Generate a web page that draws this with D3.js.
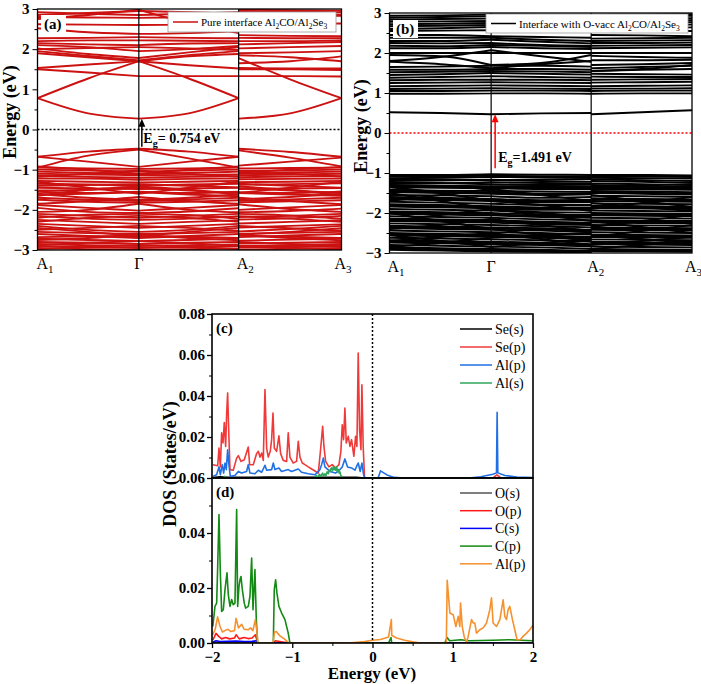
<!DOCTYPE html>
<html>
<head>
<meta charset="UTF-8">
<script src="https://d3js.org/d3.v7.min.js"></script>
<style>
  body { margin: 0; background: #fff; }
  svg text { font-family: "Liberation Serif", "Times New Roman", serif; }
  .tick text { font-weight: bold; }
</style>
</head>
<body>
<svg id="fig" width="701" height="684"></svg>
<script>
// ---------- data ----------
// k-path positions of A1, Γ, A2, A3 (fraction of 3 segments)
const kTicksA = [0, 1, 1.985, 3];
const kTicksB = [0, 1.008, 2.0, 3];
const kNames = [['A', '1'], ['Γ', ''], ['A', '2'], ['A', '3']];
const energyTicks = [-3, -2, -1, 0, 1, 2, 3];
const energyMinor = [-2.5, -1.5, -0.5, 0.5, 1.5, 2.5];

// band rows: [A1, mid, Γ, mid, A2(left), A2(right), mid, A3]  (eV)
const bandsPure = [
  [0.78, 0.40, 0.27, 0.40, 0.78, 0.27, 0.40, 0.78],
  [0.78, 1.27, 1.70, 1.27, 0.78, 1.78, 1.25, 0.78],
  [1.50, 1.42, 1.33, 1.33, 1.33, 1.33, 1.33, 1.32],
  [1.53, 1.62, 1.70, 1.60, 1.52, 1.50, 1.50, 1.48],
  [1.90, 1.80, 1.70, 1.82, 1.88, 1.53, 1.52, 1.52],
  [1.95, 1.83, 1.72, 1.85, 1.95, 1.65, 1.70, 1.82],
  [2.02, 1.88, 1.78, 1.92, 2.05, 1.85, 1.80, 1.70],
  [2.10, 2.05, 1.95, 2.00, 2.08, 1.90, 1.92, 1.95],
  [2.00, 2.03, 2.05, 2.02, 1.98, 2.02, 2.05, 2.08],
  [2.15, 2.12, 2.10, 2.14, 2.15, 2.12, 2.15, 2.18],
  [2.20, 2.22, 2.22, 2.21, 2.20, 2.20, 2.20, 2.22],
  [2.27, 2.28, 2.30, 2.28, 2.27, 2.28, 2.27, 2.27],
  [2.52, 2.42, 2.38, 2.40, 2.45, 2.35, 2.33, 2.32],
  [2.62, 2.61, 2.60, 2.61, 2.62, 2.62, 2.63, 2.64],
  [2.75, 2.85, 2.98, 2.65, 2.40, 2.80, 2.82, 2.83],
  [2.80, 2.79, 2.78, 2.80, 2.82, 2.88, 2.87, 2.86],
  [2.85, 2.90, 2.95, 2.92, 2.88, 2.95, 2.93, 2.92],
  [2.92, 2.88, 2.85, 2.88, 2.92, 2.98, 2.97, 2.96],
  [-0.68, -0.55, -0.48, -0.55, -0.68, -0.48, -0.56, -0.68],
  [-0.95, -0.65, -0.50, -0.72, -0.95, -0.52, -0.70, -0.92],
  [-0.68, -0.80, -0.93, -0.80, -0.68, -0.90, -0.80, -0.70],
  [-0.95, -0.97, -0.98, -0.97, -0.95, -0.97, -0.96, -0.95],
  [-0.92, -1.00, -1.10, -1.00, -0.92, -1.08, -1.00, -0.93],
  [-1.00, -1.02, -1.05, -1.02, -1.00, -1.03, -1.02, -1.00],
  [-1.05, -1.08, -1.12, -1.08, -1.05, -1.10, -1.07, -1.05],
  [-1.10, -1.12, -1.14, -1.13, -1.12, -1.14, -1.12, -1.10],
  [-1.18, -1.10, -1.02, -1.10, -1.18, -1.03, -1.10, -1.17],
  [-1.15, -1.18, -1.20, -1.18, -1.16, -1.19, -1.17, -1.16],
  [-1.22, -1.22, -1.25, -1.23, -1.22, -1.24, -1.23, -1.22],
  [-1.28, -1.30, -1.32, -1.30, -1.28, -1.31, -1.30, -1.28],
  [-1.35, -1.37, -1.40, -1.37, -1.35, -1.38, -1.36, -1.34],
  [-1.40, -1.38, -1.36, -1.40, -1.44, -1.35, -1.40, -1.45],
  [-1.45, -1.47, -1.48, -1.47, -1.45, -1.48, -1.47, -1.46],
  [-1.52, -1.50, -1.45, -1.52, -1.58, -1.46, -1.52, -1.58],
  [-1.55, -1.58, -1.55, -1.58, -1.55, -1.56, -1.58, -1.54],
  [-1.60, -1.70, -1.75, -1.70, -1.62, -1.74, -1.68, -1.60],
  [-1.62, -1.60, -1.56, -1.62, -1.66, -1.58, -1.62, -1.65],
  [-1.70, -1.75, -1.78, -1.74, -1.70, -1.77, -1.74, -1.70],
  [-1.75, -1.80, -1.82, -1.80, -1.76, -1.81, -1.79, -1.76],
  [-1.85, -1.78, -1.68, -1.78, -1.85, -1.70, -1.78, -1.86],
  [-1.88, -1.95, -2.02, -1.95, -1.88, -2.00, -1.94, -1.88],
  [-1.95, -2.05, -2.08, -2.04, -1.96, -2.06, -2.03, -1.97],
  [-2.05, -2.00, -1.85, -2.00, -2.06, -1.86, -1.98, -2.05],
  [-2.10, -2.15, -2.20, -2.15, -2.10, -2.18, -2.15, -2.10],
  [-2.15, -2.22, -2.25, -2.22, -2.16, -2.24, -2.21, -2.15],
  [-2.20, -2.12, -2.10, -2.13, -2.22, -2.10, -2.14, -2.22],
  [-2.30, -2.20, -2.15, -2.20, -2.30, -2.16, -2.22, -2.30],
  [-2.25, -2.30, -2.35, -2.30, -2.26, -2.34, -2.30, -2.26],
  [-2.35, -2.40, -2.45, -2.40, -2.35, -2.44, -2.40, -2.36],
  [-2.40, -2.50, -2.55, -2.50, -2.40, -2.54, -2.48, -2.40],
  [-2.45, -2.55, -2.65, -2.55, -2.45, -2.62, -2.55, -2.46],
  [-2.50, -2.45, -2.40, -2.45, -2.52, -2.40, -2.46, -2.52],
  [-2.55, -2.58, -2.60, -2.58, -2.55, -2.60, -2.57, -2.55],
  [-2.60, -2.65, -2.70, -2.65, -2.60, -2.68, -2.64, -2.60],
  [-2.68, -2.66, -2.65, -2.67, -2.70, -2.64, -2.67, -2.70],
  [-2.75, -2.70, -2.62, -2.70, -2.76, -2.63, -2.70, -2.76],
  [-2.72, -2.75, -2.78, -2.75, -2.72, -2.77, -2.74, -2.72],
  [-2.80, -2.82, -2.85, -2.82, -2.80, -2.84, -2.82, -2.80],
  [-2.88, -2.82, -2.78, -2.83, -2.90, -2.80, -2.85, -2.90],
  [-2.85, -2.88, -2.90, -2.88, -2.86, -2.90, -2.88, -2.85],
  [-2.90, -2.93, -2.95, -2.93, -2.90, -2.94, -2.92, -2.90],
  [-2.98, -2.92, -2.88, -2.92, -2.98, -2.90, -2.94, -2.99],
  [-2.95, -2.98, -3.00, -2.98, -2.96, -2.99, -2.97, -2.95],
  [-1.30, -1.45, -1.60, -1.45, -1.30, -1.58, -1.45, -1.30],
  [-1.65, -1.50, -1.42, -1.50, -1.62, -1.42, -1.50, -1.64]
];

const bandsVacc = [
  [0.52, 0.50, 0.47, 0.49, 0.50, 0.47, 0.52, 0.57],
  [0.98, 0.98, 0.99, 0.99, 0.98, 0.98, 0.99, 0.99],
  [1.05, 1.05, 1.06, 1.06, 1.05, 1.05, 1.06, 1.06],
  [1.10, 1.11, 1.12, 1.11, 1.10, 1.11, 1.11, 1.12],
  [1.17, 1.18, 1.19, 1.18, 1.17, 1.17, 1.18, 1.19],
  [1.25, 1.26, 1.27, 1.26, 1.25, 1.26, 1.27, 1.28],
  [1.32, 1.33, 1.33, 1.33, 1.32, 1.33, 1.34, 1.35],
  [1.38, 1.40, 1.42, 1.40, 1.38, 1.41, 1.40, 1.40],
  [1.45, 1.47, 1.50, 1.48, 1.46, 1.48, 1.47, 1.46],
  [1.52, 1.53, 1.55, 1.54, 1.52, 1.55, 1.58, 1.60],
  [1.58, 1.58, 1.60, 1.60, 1.58, 1.62, 1.65, 1.68],
  [1.65, 1.66, 1.68, 1.68, 1.66, 1.70, 1.72, 1.75],
  [1.78, 1.72, 1.62, 1.72, 1.80, 1.55, 1.60, 1.70],
  [1.80, 1.90, 2.07, 1.92, 1.78, 1.82, 1.82, 1.83],
  [1.95, 1.92, 1.70, 1.75, 1.95, 1.93, 1.90, 1.88],
  [2.00, 2.00, 2.00, 2.00, 2.00, 2.00, 2.00, 2.00],
  [2.12, 2.12, 2.15, 2.12, 2.10, 2.12, 2.13, 2.14],
  [2.18, 2.17, 2.20, 2.18, 2.15, 2.18, 2.19, 2.20],
  [2.25, 2.24, 2.25, 2.20, 2.18, 2.25, 2.25, 2.26],
  [2.30, 2.30, 2.33, 2.28, 2.24, 2.30, 2.31, 2.32],
  [2.38, 2.38, 2.38, 2.33, 2.30, 2.36, 2.37, 2.38],
  [2.45, 2.45, 2.42, 2.40, 2.38, 2.45, 2.44, 2.42],
  [2.55, 2.56, 2.57, 2.57, 2.56, 2.56, 2.55, 2.55],
  [2.60, 2.62, 2.65, 2.62, 2.60, 2.62, 2.63, 2.64],
  [2.67, 2.68, 2.70, 2.70, 2.70, 2.70, 2.70, 2.71],
  [2.72, 2.73, 2.75, 2.74, 2.73, 2.75, 2.76, 2.77],
  [2.78, 2.79, 2.80, 2.80, 2.80, 2.80, 2.81, 2.82],
  [2.83, 2.85, 2.86, 2.86, 2.86, 2.86, 2.87, 2.87],
  [2.88, 2.90, 2.92, 2.91, 2.90, 2.91, 2.92, 2.93],
  [2.93, 2.94, 2.96, 2.95, 2.95, 2.95, 2.96, 2.97],
  [-1.05, -1.05, -1.03, -1.04, -1.05, -1.05, -1.05, -1.06],
  [-1.09, -1.08, -1.07, -1.08, -1.09, -1.08, -1.09, -1.10],
  [-1.13, -1.12, -1.10, -1.11, -1.12, -1.12, -1.13, -1.14],
  [-1.15, -1.16, -1.18, -1.16, -1.15, -1.16, -1.18, -1.20],
  [-1.20, -1.19, -1.17, -1.20, -1.22, -1.20, -1.22, -1.25],
  [-1.24, -1.25, -1.28, -1.30, -1.28, -1.26, -1.28, -1.30],
  [-1.27, -1.26, -1.23, -1.25, -1.26, -1.30, -1.32, -1.33],
  [-1.30, -1.32, -1.33, -1.33, -1.33, -1.34, -1.35, -1.36],
  [-1.33, -1.35, -1.36, -1.37, -1.36, -1.37, -1.38, -1.39],
  [-1.36, -1.37, -1.38, -1.40, -1.40, -1.40, -1.41, -1.42],
  [-1.42, -1.44, -1.45, -1.46, -1.47, -1.45, -1.46, -1.48],
  [-1.45, -1.47, -1.49, -1.51, -1.50, -1.48, -1.49, -1.51],
  [-1.48, -1.50, -1.52, -1.55, -1.53, -1.50, -1.52, -1.54],
  [-1.55, -1.56, -1.58, -1.62, -1.60, -1.57, -1.58, -1.60],
  [-1.60, -1.62, -1.65, -1.68, -1.67, -1.63, -1.65, -1.66],
  [-1.63, -1.65, -1.68, -1.71, -1.70, -1.66, -1.68, -1.69],
  [-1.66, -1.68, -1.70, -1.74, -1.73, -1.70, -1.71, -1.72],
  [-1.72, -1.74, -1.77, -1.80, -1.80, -1.76, -1.77, -1.78],
  [-1.78, -1.80, -1.83, -1.86, -1.86, -1.82, -1.83, -1.84],
  [-1.81, -1.83, -1.86, -1.89, -1.89, -1.85, -1.86, -1.87],
  [-1.84, -1.86, -1.88, -1.92, -1.92, -1.88, -1.89, -1.90],
  [-1.90, -1.92, -1.94, -1.98, -1.99, -1.94, -1.95, -1.96],
  [-1.96, -1.98, -2.00, -2.04, -2.05, -2.00, -2.01, -2.02],
  [-1.99, -2.01, -2.03, -2.07, -2.08, -2.03, -2.04, -2.05],
  [-2.02, -2.04, -2.06, -2.10, -2.12, -2.06, -2.07, -2.08],
  [-2.08, -2.10, -2.12, -2.16, -2.18, -2.12, -2.13, -2.14],
  [-2.14, -2.16, -2.18, -2.22, -2.24, -2.18, -2.19, -2.20],
  [-2.17, -2.19, -2.21, -2.25, -2.27, -2.21, -2.22, -2.23],
  [-2.20, -2.22, -2.24, -2.28, -2.30, -2.24, -2.25, -2.26],
  [-2.26, -2.28, -2.30, -2.33, -2.36, -2.30, -2.31, -2.32],
  [-2.32, -2.34, -2.36, -2.38, -2.42, -2.36, -2.37, -2.38],
  [-2.35, -2.37, -2.39, -2.41, -2.45, -2.39, -2.40, -2.41],
  [-2.38, -2.40, -2.42, -2.44, -2.48, -2.42, -2.43, -2.44],
  [-2.44, -2.46, -2.48, -2.50, -2.54, -2.48, -2.49, -2.50],
  [-2.50, -2.52, -2.54, -2.56, -2.60, -2.54, -2.55, -2.56],
  [-2.53, -2.55, -2.57, -2.59, -2.63, -2.57, -2.58, -2.59],
  [-2.56, -2.58, -2.60, -2.62, -2.66, -2.60, -2.61, -2.62],
  [-2.62, -2.64, -2.66, -2.68, -2.72, -2.66, -2.67, -2.68],
  [-2.68, -2.70, -2.72, -2.74, -2.78, -2.72, -2.73, -2.74],
  [-2.71, -2.73, -2.75, -2.77, -2.81, -2.75, -2.76, -2.77],
  [-2.74, -2.76, -2.78, -2.80, -2.84, -2.78, -2.79, -2.80],
  [-2.80, -2.82, -2.84, -2.86, -2.90, -2.84, -2.85, -2.86],
  [-2.86, -2.88, -2.90, -2.92, -2.95, -2.90, -2.91, -2.92],
  [-2.89, -2.91, -2.93, -2.95, -2.97, -2.92, -2.93, -2.94],
  [-2.92, -2.94, -2.96, -2.97, -2.99, -2.95, -2.96, -2.97],
  [-1.35, -1.50, -1.70, -1.80, -1.95, -1.55, -1.70, -1.85],
  [-1.70, -1.55, -1.40, -1.55, -1.70, -1.90, -1.75, -1.60],
  [-1.50, -1.70, -1.90, -2.00, -2.10, -1.75, -1.85, -1.95],
  [-2.00, -2.20, -2.40, -2.55, -2.70, -2.20, -2.35, -2.50],
  [-2.20, -2.05, -1.90, -2.05, -2.20, -2.35, -2.20, -2.05],
  [-2.40, -2.30, -2.15, -2.30, -2.45, -2.60, -2.45, -2.30],
  [-2.70, -2.60, -2.50, -2.65, -2.80, -2.55, -2.65, -2.75],
  [-2.55, -2.70, -2.85, -2.75, -2.65, -2.80, -2.70, -2.60],
  [-2.85, -2.75, -2.62, -2.55, -2.50, -2.90, -2.80, -2.70]
];

// band gap arrows [from VB, to CB] in eV
const gapPure = [-0.43, 0.27];
const gapVacc = [-0.88, 0.47];

// DOS panel (c): [energy eV, DOS]
const seS = [[-2,0.0002],[-1.9,0.0006],[-1.8,0.0004],[-1.5,0.0003],[-1.3,0.0005],[-0.6,0.0003],[-0.2,0.0004],[-0.1,0],[2,0]];
const seP = [[-1.99,0.0065],[-1.929,0.0060],[-1.913,0.0146],[-1.896,0.0054],[-1.880,0.022],[-1.863,0.0171],[-1.847,0.0271],[-1.830,0.0154],[-1.817,0.0317],[-1.805,0.0415],[-1.792,0.0236],[-1.776,0.0041],[-1.735,0.0038],[-1.693,0.0097],[-1.672,0.0109],[-1.639,0.0081],[-1.598,0.0089],[-1.548,0.0151],[-1.531,0.0065],[-1.486,0.0065],[-1.444,0.0119],[-1.423,0.013],[-1.402,0.0102],[-1.381,0.0122],[-1.361,0.0086],[-1.340,0.0431],[-1.319,0.0146],[-1.299,0.0102],[-1.274,0.013],[-1.257,0.0187],[-1.240,0.0317],[-1.224,0.0146],[-1.195,0.013],[-1.166,0.0206],[-1.145,0.0119],[-1.112,0.0086],[-1.070,0.0081],[-1.050,0.022],[-1.029,0.0102],[-0.988,0.0073],[-0.946,0.0081],[-0.925,0.0179],[-0.904,0.0102],[-0.875,0.0073],[-0.842,0.0065],[-0.800,0.0054],[-0.758,0.0044],[-0.717,0.0034],[-0.676,0.0024],[-0.651,0.0122],[-0.634,0.0195],[-0.621,0.0252],[-0.605,0.0154],[-0.584,0.0081],[-0.543,0.0054],[-0.502,0.0065],[-0.460,0.0049],[-0.418,0.0065],[-0.394,0.013],[-0.377,0.026],[-0.360,0.0187],[-0.344,0.0341],[-0.327,0.0171],[-0.302,0.0203],[-0.281,0.0154],[-0.261,0.0187],[-0.232,0.0106],[-0.211,0.0203],[-0.194,0.0154],[-0.178,0.061],[-0.161,0.0236],[-0.144,0.0138],[-0.132,0.0455],[-0.116,0.0154],[-0.099,0],[1.5,0],[1.55,0.0015],[1.6,0],[2,0]];
const alPc = [[-1.99,0.0008],[-1.943,0.0016],[-1.913,0.0054],[-1.896,0.0016],[-1.872,0.0065],[-1.855,0.0024],[-1.838,0.0073],[-1.822,0.0041],[-1.805,0.0138],[-1.788,0.006],[-1.772,0.0008],[-1.714,0.0012],[-1.672,0.0032],[-1.631,0.0024],[-1.569,0.0032],[-1.548,0.0065],[-1.527,0.0024],[-1.465,0.0021],[-1.423,0.0038],[-1.381,0.0028],[-1.340,0.0062],[-1.319,0.0038],[-1.257,0.0041],[-1.236,0.0073],[-1.216,0.0041],[-1.166,0.0049],[-1.133,0.0032],[-1.050,0.0041],[-1.009,0.0032],[-0.925,0.0044],[-0.884,0.0028],[-0.800,0.0021],[-0.717,0.0016],[-0.655,0.0041],[-0.634,0.0065],[-0.613,0.0097],[-0.593,0.0054],[-0.530,0.0032],[-0.460,0.0024],[-0.406,0.0041],[-0.377,0.0054],[-0.344,0.0093],[-0.311,0.0054],[-0.261,0.0049],[-0.219,0.0038],[-0.194,0.006],[-0.178,0.0073],[-0.153,0.0032],[-0.132,0.0073],[-0.111,0.0016],[-0.095,0],[0.07,0],[0.10,0.0035],[0.12,0.003],[0.18,0.0015],[0.27,0.0003],[0.4,0],[1.2,0],[1.35,0.0006],[1.5,0.0018],[1.545,0.0025],[1.553,0.032],[1.562,0.0025],[1.65,0.0012],[1.8,0.0005],[2,0.0002]];
const alSc = [[-2,0],[-1.86,0],[-1.84,0.0008],[-1.82,0],[-0.75,0],[-0.717,0.0005],[-0.70,0.0012],[-0.69,0.0004],[-0.676,0.0010],[-0.66,0.0018],[-0.65,0.0006],[-0.634,0.0016],[-0.62,0.0024],[-0.61,0.0008],[-0.593,0.0020],[-0.58,0.0012],[-0.565,0.0030],[-0.551,0.0021],[-0.54,0.0038],[-0.530,0.0032],[-0.52,0.0045],[-0.510,0.0049],[-0.50,0.0036],[-0.489,0.0054],[-0.478,0.0040],[-0.468,0.0052],[-0.458,0.0038],[-0.447,0.0054],[-0.437,0.0030],[-0.427,0.0042],[-0.416,0.0024],[-0.406,0.0030],[-0.395,0.0012],[-0.385,0.0008],[-0.37,0],[2,0]];

// DOS panel (d)
const oS = [[-1.99,0.0002],[-1.9,0.0003],[-1.5,0.0002],[-1.43,0],[2,0]];
const oP = [[-1.99,0.001],[-1.95,0.0035],[-1.92,0.0025],[-1.88,0.0015],[-1.83,0.002],[-1.78,0.0015],[-1.72,0.0018],[-1.70,0.003],[-1.66,0.0015],[-1.60,0.002],[-1.55,0.0016],[-1.50,0.0018],[-1.46,0.003],[-1.43,0],[-1.24,0],[-1.21,0.0008],[-1.1,0.0003],[-1.03,0],[2,0]];
const cS = [[-1.99,0.0003],[-1.95,0.0008],[-1.9,0.0005],[-1.8,0.0006],[-1.7,0.0007],[-1.6,0.0005],[-1.5,0.0006],[-1.45,0.0008],[-1.43,0],[2,0]];
const cP = [[-1.99,0.006],[-1.963,0.0133],[-1.942,0.0145],[-1.929,0.0279],[-1.913,0.0467],[-1.896,0.0255],[-1.880,0.0115],[-1.859,0.0121],[-1.838,0.0194],[-1.813,0.0255],[-1.797,0.0176],[-1.776,0.0133],[-1.755,0.0158],[-1.735,0.0139],[-1.714,0.0145],[-1.693,0.0485],[-1.680,0.0133],[-1.664,0.0206],[-1.651,0.023],[-1.639,0.0242],[-1.622,0.0194],[-1.598,0.0145],[-1.581,0.0127],[-1.548,0.0133],[-1.527,0.017],[-1.506,0.0309],[-1.489,0.0121],[-1.465,0.0267],[-1.448,0.0085],[-1.431,0],[-1.236,0],[-1.224,0.0194],[-1.207,0.023],[-1.191,0.0182],[-1.166,0.0133],[-1.132,0.0109],[-1.091,0.0085],[-1.050,0.0036],[-1.029,0],[0.2,0],[0.23,0.002],[0.24,0],[0.9,0],[0.93,0.002],[0.96,0.0008],[1.1,0.0012],[1.2,0.0008],[1.5,0.001],[1.7,0.0012],[2,0.0008]];
const alPd = [[-1.99,0.003],[-1.96,0.005],[-1.93,0.0095],[-1.90,0.006],[-1.87,0.004],[-1.84,0.0045],[-1.80,0.005],[-1.77,0.0042],[-1.72,0.0045],[-1.70,0.009],[-1.67,0.0055],[-1.63,0.0068],[-1.60,0.005],[-1.55,0.0048],[-1.52,0.0055],[-1.49,0.0045],[-1.46,0.0085],[-1.44,0.004],[-1.43,0],[-1.24,0],[-1.22,0.004],[-1.20,0.0042],[-1.15,0.0025],[-1.10,0.0015],[-1.05,0.0002],[-1.03,0],[-0.3,0],[-0.1,0.0005],[0,0.001],[0.1,0.0013],[0.2,0.0022],[0.235,0.0085],[0.24,0.0028],[0.3,0.0018],[0.4,0.001],[0.5,0.0004],[0.6,0],[0.92,0],[0.931,0.0228],[0.964,0.0109],[1.005,0.0103],[1.039,0.006],[1.068,0.0097],[1.088,0.006],[1.097,0.0145],[1.118,0.006],[1.142,0.0024],[1.172,0],[1.192,0.0024],[1.234,0.0085],[1.254,0.0073],[1.275,0.0073],[1.296,0.0036],[1.337,0.0048],[1.379,0.0055],[1.421,0.0073],[1.462,0.0121],[1.483,0.0164],[1.503,0.0073],[1.545,0.006],[1.587,0.0085],[1.628,0.0157],[1.649,0.0097],[1.670,0.0085],[1.690,0.0121],[1.711,0.0133],[1.744,0.0085],[1.773,0.0048],[1.802,0.0012],[1.84,0.0012],[1.877,0.0024],[1.92,0.0036],[1.960,0.0048],[2,0.0065]];

const dosTicksX = [-2, -1, 0, 1, 2];
const dosMinorX = [-1.5, -0.5, 0.5, 1.5];
const dosTicksC = [0.02, 0.04, 0.06, 0.08];
const dosTicksD = [0, 0.02, 0.04, 0.06];
const dosMinorC = [0.01, 0.03, 0.05, 0.07];
const dosMinorD = [0.01, 0.03, 0.05];

const namesC = ['Se(s)', 'Se(p)', 'Al(p)', 'Al(s)'];
const namesD = ['O(s)', 'O(p)', 'C(s)', 'C(p)', 'Al(p)'];

// ---------- drawing ----------
const serif = '"Liberation Serif", "Times New Roman", serif';
const svg = d3.select('#fig');
const defs = svg.append('defs');

// writes text with subscript parts: parts = [[str, isSub], ...]
function rich(t, parts, subSize, subDy) {
  let down = false;
  parts.forEach(([s, sub]) => {
    const ts = t.append('tspan').text(s);
    if (sub) {
      ts.attr('font-size', subSize);
      if (!down) { ts.attr('dy', subDy); down = true; }
    } else if (down) {
      ts.attr('dy', -subDy); down = false;
    }
  });
}

function bandPanel(cfg) {
  const g = svg.append('g');
  const kt = cfg.kTicks;
  const x = d3.scaleLinear().domain([0, 3]).range([cfg.x0, cfg.x1]);
  const y = d3.scaleLinear().domain([-3, 3]).range([cfg.y1, cfg.y0]);
  defs.append('clipPath').attr('id', 'clip' + cfg.id).append('rect')
      .attr('x', cfg.x0).attr('y', cfg.y0)
      .attr('width', cfg.x1 - cfg.x0).attr('height', cfg.y1 - cfg.y0);
  const plot = g.append('g').attr('clip-path', 'url(#clip' + cfg.id + ')');

  const segs = [];
  cfg.bands.forEach(b => {
    segs.push([[kt[0], b[0]], [(kt[0] + kt[1]) / 2, b[1]], [kt[1], b[2]]]);
    segs.push([[kt[1], b[2]], [(kt[1] + kt[2]) / 2, b[3]], [kt[2], b[4]]]);
    segs.push([[kt[2], b[5]], [(kt[2] + kt[3]) / 2, b[6]], [kt[3], b[7]]]);
  });
  const line = d3.line().x(d => x(d[0])).y(d => y(d[1])).curve(d3.curveMonotoneX);
  plot.selectAll('path.band').data(segs).join('path')
      .attr('class', 'band')
      .attr('d', line)
      .attr('fill', 'none')
      .attr('stroke', cfg.color)
      .attr('stroke-width', cfg.lw);

  // high-symmetry lines
  plot.selectAll('line.kline').data([kt[1], kt[2]]).join('line')
      .attr('x1', d => x(d)).attr('x2', d => x(d))
      .attr('y1', cfg.y0).attr('y2', cfg.y1)
      .attr('stroke', '#000').attr('stroke-width', 1.2);

  // fermi level
  plot.append('line')
      .attr('x1', cfg.x0).attr('x2', cfg.x1).attr('y1', y(0)).attr('y2', y(0))
      .attr('stroke', cfg.zeroColor).attr('stroke-width', 1.5)
      .attr('stroke-dasharray', '2,2');

  // panel label with white background
  g.append('rect').attr('x', cfg.tagX - 3).attr('y', cfg.tagY - 14)
      .attr('width', 25).attr('height', 18).attr('fill', '#fff');
  g.append('text').attr('x', cfg.tagX).attr('y', cfg.tagY)
      .attr('font-size', 15).attr('font-weight', 'bold').text(cfg.tag);

  // legend
  const L = cfg.legend;
  g.append('rect').attr('x', L.x).attr('y', L.y).attr('width', L.w).attr('height', L.h)
      .attr('fill', '#fff').attr('stroke', '#999').attr('stroke-width', 0.8);
  g.append('line').attr('x1', L.x + 5).attr('x2', L.x + 30)
      .attr('y1', L.y + L.h / 2).attr('y2', L.y + L.h / 2)
      .attr('stroke', cfg.color).attr('stroke-width', 1.5);
  const lt = g.append('text').attr('x', L.x + 33).attr('y', L.y + L.h / 2 + 4)
      .attr('font-size', 11);
  rich(lt, L.parts, 7.5, 3);

  // band gap arrow
  const ax = x(kt[1]) + cfg.arrowDx;
  const yTo = y(cfg.gap[1]);
  g.append('line').attr('x1', ax).attr('x2', ax)
      .attr('y1', y(cfg.gap[0])).attr('y2', yTo + 6)
      .attr('stroke', cfg.arrowColor).attr('stroke-width', 1.5);
  g.append('path')
      .attr('d', `M${ax},${yTo} L${ax - 3.5},${yTo + 8} L${ax + 3.5},${yTo + 8} Z`)
      .attr('fill', cfg.arrowColor);
  const gt = g.append('text').attr('x', ax + cfg.gapTextDx).attr('y', cfg.gapTextY)
      .attr('font-size', 14).attr('font-weight', 'bold');
  rich(gt, [['E', false], ['g', true], [cfg.gapText, false]], 10, 4);

  // frame
  g.append('rect').attr('x', cfg.x0).attr('y', cfg.y0)
      .attr('width', cfg.x1 - cfg.x0).attr('height', cfg.y1 - cfg.y0)
      .attr('fill', 'none').attr('stroke', '#000').attr('stroke-width', 1.3);

  // y axis
  const ya = g.append('g').attr('transform', `translate(${cfg.x0},0)`)
      .call(d3.axisLeft(y).tickValues(energyTicks).tickSize(5).tickPadding(3)
      .tickFormat(d3.format('d')));
  ya.attr('font-family', serif);
  ya.select('.domain').remove();
  ya.selectAll('text').attr('font-size', 15).attr('font-family', serif);
  const ym = g.append('g').attr('transform', `translate(${cfg.x0},0)`)
      .call(d3.axisLeft(y).tickValues(energyMinor).tickSize(3).tickFormat(''));
  ym.select('.domain').remove();

  // k labels
  const kl = g.selectAll('text.klab').data(kt).join('text')
      .attr('class', 'klab')
      .attr('x', (d, i) => x(d) + cfg.kShift[i])
      .attr('y', cfg.y1 + 19)
      .attr('font-size', 16)
      .attr('text-anchor', (d, i) => i === 1 ? 'middle' : 'start');
  kl.each(function (d, i) {
    rich(d3.select(this), [[kNames[i][0], false], [kNames[i][1], true]], 11, 4);
  });

  // y title
  g.append('text')
      .attr('transform', `translate(${cfg.titleX},${cfg.titleY}) rotate(-90)`)
      .attr('text-anchor', 'middle').attr('font-size', 18).attr('font-weight', 'bold')
      .text('Energy (eV)');
}

bandPanel({
  id: 'a', x0: 37.5, x1: 341.5, y0: 9, y1: 250, kTicks: kTicksA,
  bands: bandsPure, color: '#cc1111', lw: 1.9, zeroColor: '#000',
  tag: '(a)', tagX: 44, tagY: 29,
  legend: { x: 168, y: 12, w: 168, h: 20,
    parts: [['Pure interface Al', false], ['2', true], ['CO/Al', false], ['2', true], ['Se', false], ['3', true]] },
  gap: gapPure, arrowColor: '#000', arrowDx: 3, gapText: '= 0.754 eV', gapTextDx: 1.5, gapTextY: 143,
  kShift: [-1, 0, -2, -7], titleX: 16, titleY: 112
});

bandPanel({
  id: 'b', x0: 389.5, x1: 692, y0: 13, y1: 253, kTicks: kTicksB,
  bands: bandsVacc, color: '#000', lw: 1.9, zeroColor: '#ff0000',
  tag: '(b)', tagX: 396, tagY: 34,
  legend: { x: 486, y: 14, w: 202, h: 19,
    parts: [['Interface with O-vacc Al', false], ['2', true], ['CO/Al', false], ['2', true], ['Se', false], ['3', true]] },
  gap: gapVacc, arrowColor: '#ff0000', arrowDx: 4, gapText: '=1.491 eV', gapTextDx: 3, gapTextY: 162,
  kShift: [-2, 0, -4, -7], titleX: 367, titleY: 126
});

function dosPanel(cfg) {
  const g = svg.append('g');
  const x = d3.scaleLinear().domain([-2, 2]).range([cfg.x0, cfg.x1]);
  const y = d3.scaleLinear().domain([0, cfg.ymax]).range([cfg.y1, cfg.y0]);
  defs.append('clipPath').attr('id', 'clip' + cfg.id).append('rect')
      .attr('x', cfg.x0).attr('y', cfg.y0)
      .attr('width', cfg.x1 - cfg.x0).attr('height', cfg.y1 - cfg.y0);
  const plot = g.append('g').attr('clip-path', 'url(#clip' + cfg.id + ')');
  const line = d3.line().x(d => x(d[0])).y(d => y(d[1]));
  plot.selectAll('path.dos').data(cfg.series).join('path')
      .attr('class', 'dos')
      .attr('d', d => line(d))
      .attr('fill', 'none')
      .attr('stroke', (d, i) => cfg.colors[i])
      .attr('stroke-width', 1.6)
      .attr('stroke-linejoin', 'round');

  plot.append('line').attr('x1', x(0)).attr('x2', x(0))
      .attr('y1', cfg.y0).attr('y2', cfg.y1)
      .attr('stroke', '#000').attr('stroke-width', 1.5).attr('stroke-dasharray', '2,2');

  g.append('rect').attr('x', cfg.x0).attr('y', cfg.y0)
      .attr('width', cfg.x1 - cfg.x0).attr('height', cfg.y1 - cfg.y0)
      .attr('fill', 'none').attr('stroke', '#000').attr('stroke-width', 1.6);

  const ya = g.append('g').attr('transform', `translate(${cfg.x0},0)`)
      .call(d3.axisLeft(y).tickValues(cfg.ticks).tickSize(5).tickPadding(2)
      .tickFormat(d3.format('.2f')));
  ya.attr('font-family', serif);
  ya.select('.domain').remove();
  ya.selectAll('text').attr('font-size', 15).attr('font-family', serif);
  ya.selectAll('line').attr('stroke-width', 1.3);
  const ym = g.append('g').attr('transform', `translate(${cfg.x0},0)`)
      .call(d3.axisLeft(y).tickValues(cfg.minor).tickSize(3).tickFormat(''));
  ym.select('.domain').remove();

  if (cfg.xAxis) {
    const xa = g.append('g').attr('transform', `translate(0,${cfg.y1})`)
        .call(d3.axisBottom(x).tickValues(dosTicksX).tickSize(5).tickPadding(3)
        .tickFormat(d3.format('d')));
    xa.attr('font-family', serif);
    xa.select('.domain').remove();
    xa.selectAll('text').attr('font-size', 15).attr('font-family', serif);
    xa.selectAll('line').attr('stroke-width', 1.3);
    const xm = g.append('g').attr('transform', `translate(0,${cfg.y1})`)
        .call(d3.axisBottom(x).tickValues(dosMinorX).tickSize(3).tickFormat(''));
    xm.select('.domain').remove();
  }

  g.append('text').attr('x', cfg.x0 + 4).attr('y', cfg.tagY)
      .attr('font-size', 15).attr('font-weight', 'bold').text(cfg.tag);

  const lg = g.selectAll('g.leg').data(cfg.names).join('g').attr('class', 'leg')
      .attr('transform', (d, i) => `translate(460,${cfg.legY + i * cfg.legStep})`);
  lg.append('line').attr('x1', 0).attr('x2', 32).attr('stroke-width', 1.5)
      .attr('stroke', (d, i) => cfg.colors[i]);
  lg.append('text').attr('x', 35).attr('y', 5).attr('font-size', 14).text(d => d);
}

dosPanel({
  id: 'c', x0: 212, x1: 533, y0: 314, y1: 478, ymax: 0.08,
  series: [seS, seP, alPc, alSc], colors: ['#000000', '#f03a3a', '#1f6fe5', '#2fa65a'],
  names: namesC, ticks: dosTicksC, minor: dosMinorC, xAxis: false,
  tag: '(c)', tagY: 333, legY: 329, legStep: 18
});

dosPanel({
  id: 'd', x0: 212, x1: 533, y0: 478, y1: 643, ymax: 0.06,
  series: [oS, oP, cS, cP, alPd], colors: ['#555555', '#ff1a1a', '#0000ff', '#138a13', '#f5912e'],
  names: namesD, ticks: dosTicksD, minor: dosMinorD, xAxis: true,
  tag: '(d)', tagY: 497, legY: 493, legStep: 17.7
});

svg.append('text')
    .attr('transform', 'translate(176,464) rotate(-90)')
    .attr('text-anchor', 'middle').attr('font-size', 18).attr('font-weight', 'bold')
    .text('DOS (States/eV)');
svg.append('text').attr('x', 372).attr('y', 679)
    .attr('text-anchor', 'middle').attr('font-size', 17).attr('font-weight', 'bold')
    .text('Energy (eV)');
</script>
</body>
</html>
